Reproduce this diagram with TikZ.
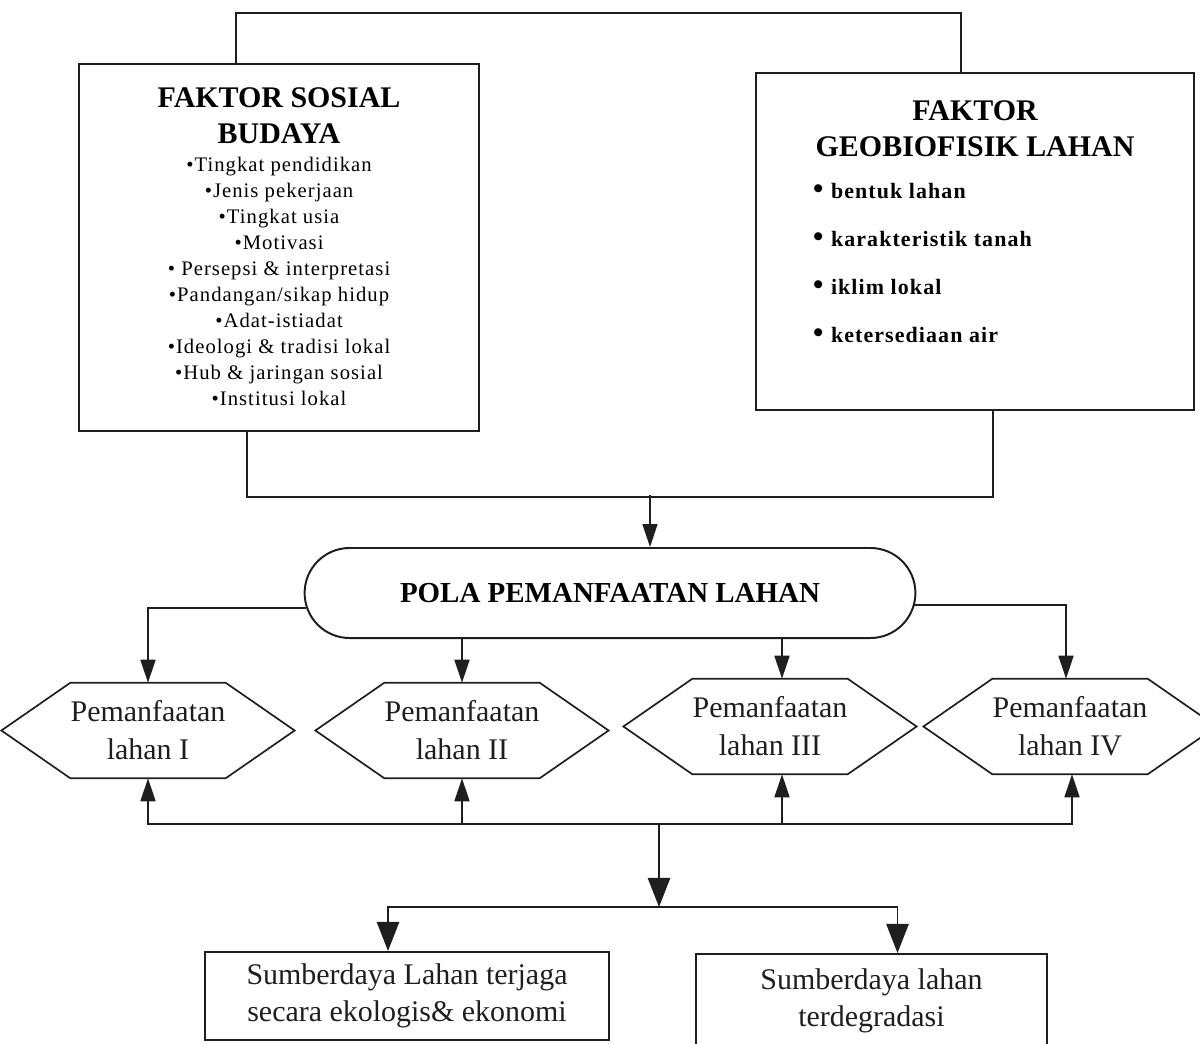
\documentclass[tikz,border=0pt]{standalone}
\usepackage{fontspec}
\setmainfont{Liberation Serif}
\newfontfamily\renggang[LetterSpace=5]{Liberation Serif}
\usetikzlibrary{arrows.meta, shapes.misc, positioning, calc}
\definecolor{tinta}{RGB}{30,30,30}
\newcommand{\butir}{\makebox[0.45cm][l]{\raisebox{-0.5pt}{\fontsize{21pt}{0pt}\selectfont•}}}

\begin{document}
\begin{tikzpicture}[
    x=0.025cm, y=-0.025cm,
    garis/.style={line width=1.2pt, draw=tinta},
    kotak/.style={draw=tinta, line width=1.4pt, inner sep=0pt},
    pil/.style={rounded rectangle, draw=tinta, line width=1.4pt,
                minimum width=15.5cm, minimum height=2.25cm,
                font={\bfseries\fontsize{20.6pt}{24pt}\selectfont}},
    segienam/.style={minimum width=3.5cm, minimum height=2.375cm, inner sep=0pt,
                     align=center, text=tinta, font={\fontsize{21.3pt}{0.95cm}\selectfont}},
    hasil/.style={kotak, align=center, text=tinta, font={\fontsize{21.3pt}{0.925cm}\selectfont}},
    panah/.style={garis, -{Triangle[length=0.575cm, width=0.375cm]}},
    panahbesar/.style={garis, -{Triangle[length=0.73cm, width=0.56cm]}}
  ]
  \useasboundingbox (0,0) rectangle (1200,1043);

  % faktor
  \node[kotak, anchor=north west] (sosial) at (78,63) {\parbox[t][9.175cm][t]{10cm}{\centering
      \fontsize{21.3pt}{0.875cm}\selectfont\bfseries
      \rule{0pt}{1.1cm}FAKTOR SOSIAL\\BUDAYA\par
      \vspace{0.05cm}
      \renggang\mdseries\fontsize{14.7pt}{0.65cm}\selectfont
      •Tingkat pendidikan\\
      •Jenis pekerjaan\\
      •Tingkat usia\\
      •Motivasi\\
      • Persepsi \& interpretasi\\
      •Pandangan/sikap hidup\\
      •Adat-istiadat\\
      •Ideologi \& tradisi lokal\\
      •Hub \& jaringan sosial\\
      •Institusi lokal\par}};
  \node[kotak, anchor=north west] (geo) at (755,72) {\parbox[t][8.425cm][t]{10.95cm}{%
      {\centering\fontsize{21.3pt}{0.875cm}\selectfont\bfseries
      \rule{0pt}{1.2cm}FAKTOR\\GEOBIOFISIK LAHAN\par}
      \vspace{-0.15cm}
      \renggang\bfseries\fontsize{15.6pt}{1.2cm}\selectfont
      \leftskip=1.425cm
      \butir bentuk lahan\\
      \butir karakteristik tanah\\
      \butir iklim lokal\\
      \butir ketersediaan air\par}};

  \draw[garis] ($(sosial.north)+(-43,0)$) -- ++(0,-50) -| ($(geo.north)+(-14,0)$);
  \draw[garis] ($(sosial.south)+(-32,0)$) -- ++(0,65) -| ($(geo.south)+(18,0)$);

  % pola
  \node[pil] (pola) at (610,593) {POLA PEMANFAATAN LAHAN};
  \coordinate (temu) at (650,495);
  \draw[panah] (temu) -- (temu |- pola.north);

  \node[segienam] (lahan1) at (148,730.5) {Pemanfaatan\\lahan I};
  \node[segienam] (lahan2) at (462,730.5) {Pemanfaatan\\lahan II};
  \node[segienam] (lahan3) at (770,726.5) {Pemanfaatan\\lahan III};
  \node[segienam] (lahan4) at (1070,726.5) {Pemanfaatan\\lahan IV};
  \foreach \n in {lahan1,lahan2,lahan3,lahan4}
    \draw[garis] (\n.north west) -- (\n.north east) -- ($(\n.east)+(69,0)$)
      -- (\n.south east) -- (\n.south west) -- ($(\n.west)+(-69,0)$) -- cycle;

  \draw[panah] ($(pola.west)+(2,15)$) -| (lahan1.north);
  \draw[panah] (pola.south -| lahan2.north) -- (lahan2.north);
  \draw[panah] ($(pola.south -| lahan3.north)+(12,0)$) -- ($(lahan3.north)+(12,0)$);
  \draw[panah] ($(pola.east)+(-2,12)$) -| ($(lahan4.north)+(-4,0)$);

  % hasil
  \coordinate (bus) at (659,824);
  \draw[panah] (bus) -| (lahan1.south);
  \draw[panah] (bus) -| (lahan2.south);
  \draw[panah] (bus) -| ($(lahan3.south)+(12,0)$);
  \draw[panah] (bus) -| ($(lahan4.south)+(2,0)$);

  \coordinate (cabang) at (659,907);
  \draw[panahbesar] (bus) -- (cabang);
  \node[hasil, minimum width=10.1cm, minimum height=2.2cm] (lestari) at (407,996)
    {Sumberdaya Lahan terjaga\\secara ekologis\& ekonomi};
  \node[hasil, minimum width=8.775cm, minimum height=2.35cm] (rusak) at (871.5,1001)
    {Sumberdaya lahan\\terdegradasi};
  \draw[panahbesar] (cabang) -| ($(lestari.north)+(-19,0)$);
  \draw[panahbesar] (cabang) -| ($(rusak.north)+(26,0)$);
\end{tikzpicture}
\end{document}
